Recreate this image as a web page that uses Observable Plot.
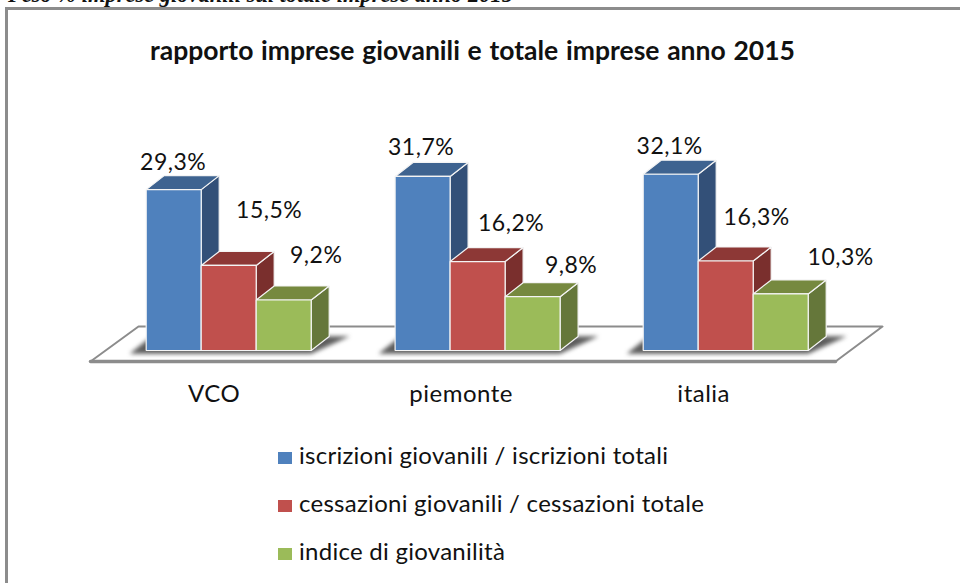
<!DOCTYPE html>
<html><head><meta charset="utf-8">
<script src="https://cdn.jsdelivr.net/npm/d3@7"></script>
<script src="https://cdn.jsdelivr.net/npm/@observablehq/plot@0.6"></script>
<style>
html,body{margin:0;padding:0;background:#fff;width:960px;height:583px;overflow:hidden}
#page{position:relative;width:960px;height:583px;overflow:hidden}
#chart{position:absolute;left:0;top:0}
#chart svg{display:block}
#caption{position:absolute;left:8px;top:-18px;font:italic bold 22.5px "Liberation Serif",serif;color:#111;white-space:nowrap}
#frame{position:absolute;left:5px;top:7px;width:960px;height:600px;border-left:3px solid #8c8c8c;border-top:3px solid #8c8c8c}
#title{position:absolute;left:150px;top:34px;font:bold 26.5px Lato,sans-serif;word-spacing:1.3px;color:#111;white-space:nowrap}
.leg{position:absolute;left:278px;font:24px Lato,sans-serif;letter-spacing:0.27px;color:#111;white-space:nowrap;height:24px;line-height:24px}
.leg i{display:inline-block;width:14px;height:12px;margin-right:7px;vertical-align:0}
</style></head><body>
<div id="page">
  <div id="caption">Peso % imprese giovanili sul totale imprese anno 2015</div>
  <div id="frame"></div>
  <div id="chart"></div>
  <div id="title">rapporto imprese giovanili e totale imprese anno 2015</div>
  <div id="legend"></div>
</div>
<script>
const groups = ["VCO", "piemonte", "italia"];
const seriesNames = ["iscrizioni giovanili / iscrizioni totali", "cessazioni giovanili / cessazioni totale", "indice di giovanilità"];
const iscrizioni = [29.3, 31.7, 32.1];
const cessazioni = [15.5, 16.2, 16.3];
const indice = [9.2, 9.8, 10.3];
const seriesValues = [iscrizioni, cessazioni, indice];

const frontColors = ["#4f81bd", "#c0504d", "#9bbb59"];
const topColors = ["#3e6390", "#8d3836", "#76893f"];
const sideColors = ["#335078", "#7a2f2d", "#65773a"];

// layout, in px
const barPx = 55, pctPx = 5.49, basePx = 350;
const groupStart = [145.7, 394.6, 642.7].map(p => p / barPx);
const depthX = 18 / barPx, depthY = 14 / pctPx;
// hand-placed data labels: offset from the bar's front-top centre, [group][series]
const labelDx = [[-0.5, 40.5, 32.5], [-1.5, 33.5, 38.5], [-1, 31, 60]];
const labelDy = [[27, 55, 44], [29, 38, 31], [28, 43.5, 36.5]];
const groupLabelDx = [-14.5, -16.5, -22];
const groupLabelY = -44 / pctPx;
const floorFrontY = -11 / pctPx, floorBackY = 24 / pctPx;
const floorX = [90 / barPx, 835 / barPx, 882 / barPx, 138 / barPx];

const pct = v => v.toFixed(1).replace(".", ",") + "%";

const faces = [];
const labels = [];
groups.forEach((g, gi) => {
  seriesValues.forEach((vals, si) => {
    const v = vals[gi], x0 = groupStart[gi] + si, x1 = x0 + 1;
    const id = `${g}-${si}`;
    const add = (face, color, pts) => pts.forEach(([x, y]) => faces.push({id: `${id}-${face}`, color, x, y}));
    add("side", sideColors[si], [[x1, 0], [x1 + depthX, depthY], [x1 + depthX, v + depthY], [x1, v]]);
    add("top", topColors[si], [[x0, v], [x1, v], [x1 + depthX, v + depthY], [x0 + depthX, v + depthY]]);
    add("front", frontColors[si], [[x0, 0], [x1, 0], [x1, v], [x0, v]]);
    labels.push({
      text: pct(v),
      x: (x0 + x1) / 2 + labelDx[gi][si] / barPx,
      y: v + labelDy[gi][si] / pctPx
    });
  });
});

const floor = [
  {x: floorX[0], y: floorFrontY}, {x: floorX[1], y: floorFrontY},
  {x: floorX[2], y: floorBackY}, {x: floorX[3], y: floorBackY}
];
const floorFront = [floor[0], floor[1]];

const shadows = groups.flatMap((g, gi) => {
  const x0 = groupStart[gi];
  return [
    {id: g, x: x0 - 0.3, y: -0.6}, {id: g, x: x0 + 3.0, y: -0.6},
    {id: g, x: x0 + 3.7, y: 2.6}, {id: g, x: x0 + 0.1, y: 2.6}
  ];
});

const groupLabels = groups.map((g, gi) => ({
  text: g,
  x: groupStart[gi] + 1.5 + groupLabelDx[gi] / barPx,
  y: groupLabelY
}));

const blur = (index, scales, values, dims, ctx, next) => {
  const g = next(index, scales, values, dims, ctx);
  g.style.filter = "blur(2px)";
  return g;
};

const plot = Plot.plot({
  width: 960, height: 583,
  marginTop: 0, marginRight: 0, marginBottom: 0, marginLeft: 0,
  x: {domain: [0, 960 / barPx], range: [0, 960], axis: null},
  y: {domain: [0, basePx / pctPx], range: [basePx, 0], axis: null},
  color: {type: "identity"},
  style: {background: "transparent", overflow: "visible", letterSpacing: "0.5px"},
  marks: [
    Plot.line(floor, {x: "x", y: "y", curve: "linear-closed", fill: "#fff", stroke: "#8c8c8c", strokeWidth: 2}),
    Plot.line(floorFront, {x: "x", y: "y", stroke: "#8c8c8c", strokeWidth: 3.5}),
    Plot.line(shadows, {x: "x", y: "y", z: "id", curve: "linear-closed", fill: "#333", fillOpacity: 0.8, render: blur}),
    Plot.line(faces, {x: "x", y: "y", z: "id", curve: "linear-closed", fill: "color", stroke: "#f4f4f4", strokeWidth: 1.2, strokeLinejoin: "miter"}),
    Plot.text(labels, {x: "x", y: "y", text: "text", fontSize: 23, fontFamily: "Lato", fill: "#111", lineAnchor: "middle"}),
    Plot.text(groupLabels, {x: "x", y: "y", text: "text", fontSize: 24, fontFamily: "Lato", fill: "#111", lineAnchor: "middle"})
  ]
});
document.getElementById("chart").append(plot);

const legend = document.getElementById("legend");
seriesNames.forEach((name, i) => {
  const row = document.createElement("div");
  row.className = "leg";
  row.style.top = (443 + i * 48) + "px";
  const sw = document.createElement("i");
  sw.style.background = frontColors[i];
  row.append(sw, name);
  legend.append(row);
});
</script>
</body></html>
